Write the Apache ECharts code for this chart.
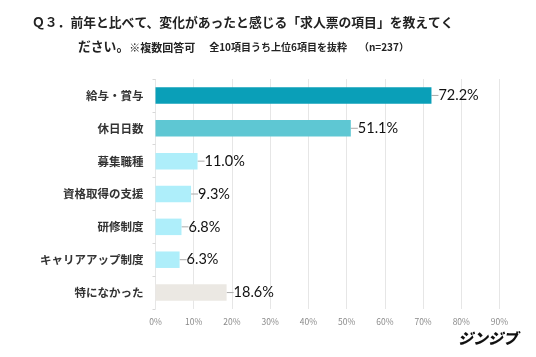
<!DOCTYPE html>
<html><head><meta charset="utf-8">
<script src="https://cdn.jsdelivr.net/npm/echarts@6/dist/echarts.min.js"></script>
<style>html,body{margin:0;padding:0;background:#fff}#c{width:536px;height:357px}</style>
</head><body><div id="c"></div>
<script>
const categories = ['給与・賞与','休日日数','募集職種','資格取得の支援','研修制度','キャリアアップ制度','特になかった'];
const values = [72.2, 51.1, 11.0, 9.3, 6.8, 6.3, 18.6];
const barColors = ['#0a9fb8','#5ec7d3','#aeeefa','#aeeefa','#aeeefa','#aeeefa','#ebe8e3'];
const xTicks = [0,10,20,30,40,50,60,70,80,90];

const font = '"Noto Sans CJK JP", "Noto Sans", sans-serif';
const chart = echarts.init(document.getElementById('c'), null, {renderer:'canvas'});
chart.setOption({
  animation:false,
  textStyle:{fontFamily:font},
  grid:{left:155.5, right:36.5, top:79, bottom:48},
  xAxis:{type:'value', min:xTicks[0], max:xTicks[xTicks.length-1], interval:10,
    axisLine:{show:false}, axisTick:{show:false},
    splitLine:{lineStyle:{color:'#e6e6e6', width:1}},
    axisLabel:{formatter:v=>v+'%', color:'#8a8a8a', fontSize:8.5, margin:9, fontFamily:font}},
  yAxis:{type:'category', inverse:true, data:categories,
    axisLine:{show:false},
    axisTick:{show:true, length:3, lineStyle:{color:'#d8d8d8'}},
    axisLabel:{color:'#333', fontSize:11.5, fontWeight:'bold', margin:12, fontFamily:font}},
  series:[{type:'bar', barWidth:16.5,
    data: values.map((v,i)=>({value:v, itemStyle:{color:barColors[i]}})),
    label:{show:true, position:'right', distance:7, formatter:p=>p.value.toFixed(1)+'%',
      color:'#111', fontSize:14.5, fontFamily:'"Lato","Noto Sans",sans-serif'},
    labelLine:{show:true, lineStyle:{color:'#aaa', width:1}},
    labelLayout:{dx:0}
  }],
  graphic:[
    {type:'text', left:32, top:16, style:{text:'Ｑ３．前年と比べて、変化があったと感じる「求人票の項目」を教えてく', fill:'#222', font:'bold 12.8px '+font}},
    {type:'text', left:78, top:40, style:{
      text:'{a|ださい。}{b|※複数回答可}{c|全10項目うち上位6項目を抜粋}{d|（n=237）}',
      rich:{a:{fill:'#222', font:'bold 12.8px '+font},
            b:{fill:'#222', font:'bold 11px '+font, padding:[2,0,0,0]},
            c:{fill:'#222', font:'bold 10px '+font, padding:[2,0,0,14]},
            d:{fill:'#222', font:'bold 10px '+font, padding:[2,0,0,12]}}}},
    {type:'text', right:18, top:331, style:{text:'ジンジブ', fill:'#111', font:'italic 900 15px '+font}}
  ]
});
</script></body></html>
